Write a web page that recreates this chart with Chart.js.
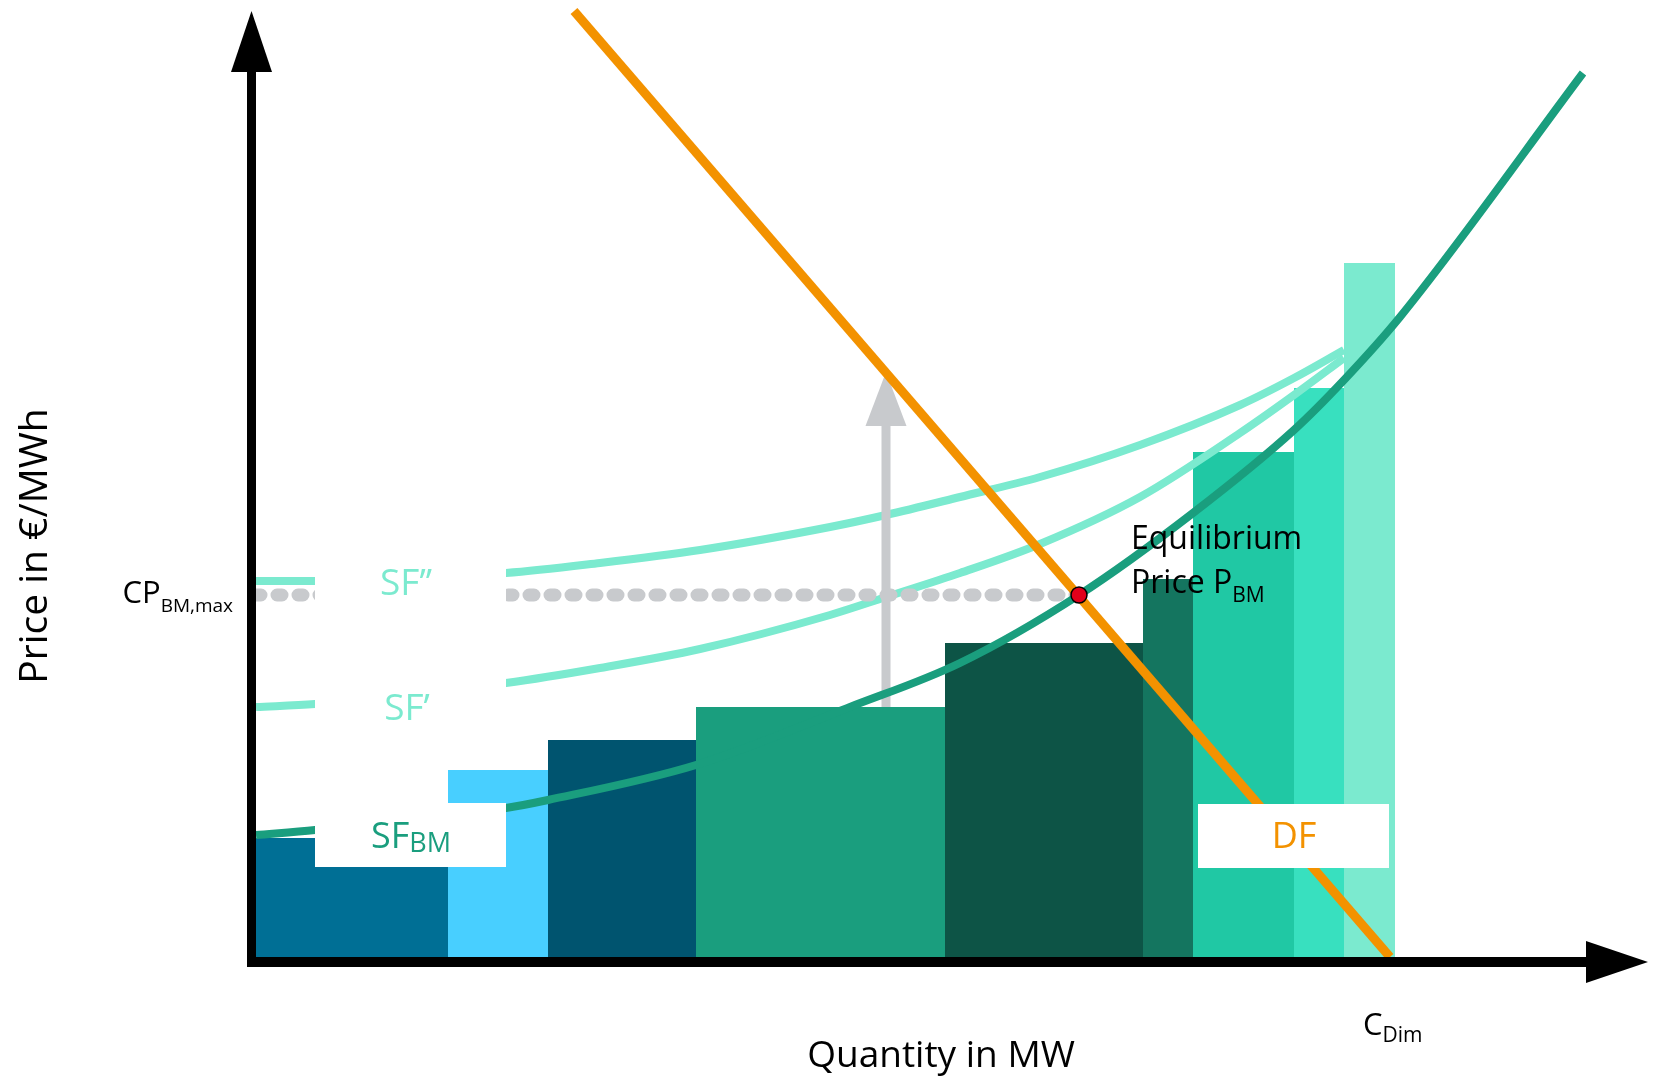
<!DOCTYPE html>
<html><head><meta charset="utf-8">
<script src="https://cdn.jsdelivr.net/npm/chart.js@4.4.0/dist/chart.umd.min.js"></script>
<style>html,body{margin:0;padding:0;background:#fff;}#wrap{width:1661px;height:1080px;position:relative;}</style>
</head><body><div id="wrap"><canvas id="c" width="1661" height="1080"></canvas></div>
<script>
// ---------- DATA ----------
// merit-order blocks: capacity (quantity) and bid price of each block
const blockCapacities = [19.2, 10.0, 14.8, 24.9, 19.8, 5.0, 10.1, 5.0, 5.1];
const blockPrices     = [11.9, 18.7, 21.7, 25.0, 31.4, 37.8, 50.5, 56.9, 69.4];
const blockColors     = ['#006f95','#48cfff','#00546f','#1a9e7e','#0d5446','#14755f','#20c8a4','#38e0bf','#7beacf'];

// supply function SF_BM
const sfBmQ = [0, 5.9, 25, 29.2, 44, 59.4, 70.4, 82.3, 93.7, 103.8, 108.8, 114.4, 132.7];
const sfBmP = [12.2, 12.7, 14.9, 15.7, 19.2, 25.0, 29.4, 36.2, 44.4, 52.7, 57.7, 64.0, 88.4];

// shifted supply functions SF' and SF''
const sfQ       = [0, 5.9, 25, 34.4, 44.4, 57.4, 63, 70.4, 78.4, 88.4, 98.4, 103.8, 108.8];
const sfPrimeP  = [25.0, 25.3, 27.4, 28.9, 30.8, 34.2, 36.0, 38.4, 41.3, 46.0, 52.4, 56.2, 59.9];
const sfDoubleP = [37.6, 37.6, 38.4, 39.4, 40.7, 43.0, 44.2, 46.0, 48.0, 51.2, 55.2, 57.9, 60.7];

// demand function DF
const dfQ = [31.8, 113.4];
const dfP = [94.6, 0];

// equilibrium
const eqQ = 82.3;
const eqP = 36.2;

// price-shift arrow (from top of block 4 upwards)
const shiftQ = 63.0;
const shiftP = [25.0, 53.1];
const shiftTipP = 58.5;

// axis extents
const xMin = -25.6, xMax = 140.5, yMin = -12.3, yMax = 95.7;

// ---------- BUILD ----------
const toPts = (xs, ys) => xs.map((x, i) => ({x, y: ys[i]}));
const datasets = [];
let cum = 0;
blockCapacities.forEach((w, i) => {
  const x0 = cum, x1 = cum + w; cum = x1;
  datasets.push({
    label: 'block' + (i + 1), data: [{x: x0, y: blockPrices[i]}, {x: x1, y: blockPrices[i]}],
    fill: 'origin', backgroundColor: blockColors[i], borderColor: 'rgba(0,0,0,0)', borderWidth: 0,
    pointRadius: 0, tension: 0, order: 20
  });
});
const cDim = cum;
const LIGHT = '#7beacf', GREEN = '#1a9e7e', ORANGE = '#f39200', GREY = '#c8cacd';
datasets.push({label: "SF''", data: toPts(sfQ, sfDoubleP), borderColor: LIGHT, borderWidth: 8, pointRadius: 0, cubicInterpolationMode: 'monotone', fill: false, order: 10});
datasets.push({label: "SF'", data: toPts(sfQ, sfPrimeP), borderColor: LIGHT, borderWidth: 8, pointRadius: 0, cubicInterpolationMode: 'monotone', fill: false, order: 9});
datasets.push({label: 'CPmax', data: [{x: 0, y: eqP}, {x: eqQ, y: eqP}], borderColor: GREY, borderWidth: 13, borderDash: [5, 16], borderCapStyle: 'round', pointRadius: 0, fill: false, order: 8});
datasets.push({label: 'shift', data: [{x: shiftQ, y: shiftP[0]}, {x: shiftQ, y: shiftP[1]}], borderColor: GREY, borderWidth: 9, pointRadius: 0, fill: false, order: 7});
datasets.push({label: 'SF_BM', data: toPts(sfBmQ, sfBmP), borderColor: GREEN, borderWidth: 8, pointRadius: 0, cubicInterpolationMode: 'monotone', fill: false, order: 6});
datasets.push({label: 'DF', data: toPts(dfQ, dfP), borderColor: ORANGE, borderWidth: 9, pointRadius: 0, fill: false, order: 5});
datasets.push({label: 'eq', data: [{x: eqQ, y: eqP}], showLine: false, pointRadius: 8, pointBackgroundColor: '#e2001a', pointBorderColor: '#000', pointBorderWidth: 1.5, order: 1});

const FONT = '"Open Sans", "Noto Sans", sans-serif';
function txt(ctx, s, x, y, size, color, align) {
  ctx.font = size + 'px ' + FONT; ctx.fillStyle = color; ctx.textAlign = align || 'left'; ctx.textBaseline = 'alphabetic';
  ctx.fillText(s, x, y);
}
function subTxt(ctx, main, sub, x, y, mSize, sSize, dy, color, align) {
  ctx.font = mSize + 'px ' + FONT; const wm = ctx.measureText(main).width;
  ctx.font = sSize + 'px ' + FONT; const ws = ctx.measureText(sub).width;
  let left = x;
  if (align === 'right') left = x - wm - ws; else if (align === 'center') left = x - (wm + ws) / 2;
  txt(ctx, main, left, y, mSize, color, 'left');
  txt(ctx, sub, left + wm, y + dy, sSize, color, 'left');
}

const deco = {
  id: 'deco',
  afterDatasetDraw(chart, args) {
    if (chart.data.datasets[args.index].label !== 'shift') return;
    const {ctx, scales: {x, y}} = chart;
    const px = x.getPixelForValue(shiftQ), base = y.getPixelForValue(shiftP[1]), tip = y.getPixelForValue(shiftTipP);
    ctx.save(); ctx.fillStyle = GREY; ctx.beginPath();
    ctx.moveTo(px, tip); ctx.lineTo(px + 20.5, base); ctx.lineTo(px - 20.5, base); ctx.closePath(); ctx.fill(); ctx.restore();
  },
  afterDatasetsDraw(chart) {
    const {ctx, scales: {x, y}} = chart;
    const X = v => x.getPixelForValue(v), Y = v => y.getPixelForValue(v);
    ctx.save();
    // axes
    const ax = X(0) - 4.5, ay = Y(0) + 5;
    ctx.fillStyle = '#000';
    ctx.fillRect(ax - 4.5, 72, 9, ay + 5 - 72);
    ctx.beginPath(); ctx.moveTo(ax, 11); ctx.lineTo(ax + 20.5, 72); ctx.lineTo(ax - 20.5, 72); ctx.closePath(); ctx.fill();
    ctx.fillRect(ax - 4.5, ay - 5, 1586 - (ax - 4.5), 10);
    ctx.beginPath(); ctx.moveTo(1648, ay); ctx.lineTo(1586, ay - 21); ctx.lineTo(1586, ay + 21); ctx.closePath(); ctx.fill();
    // white label boxes
    ctx.fillStyle = '#fff';
    ctx.fillRect(315, 530, 191, 215);
    ctx.fillRect(315, 803, 191, 64);
    ctx.fillRect(1198, 804, 191, 64);
    // labels
    const eqY = Y(eqP);
    subTxt(ctx, 'CP', 'BM,max', 233, eqY + 8, 31, 19, 9, '#000', 'right');
    txt(ctx, 'SF\u2019\u2019', 406, eqY, 37, LIGHT, 'center');
    txt(ctx, 'SF\u2019', 407, 720, 37, LIGHT, 'center');
    subTxt(ctx, 'SF', 'BM', 411, 848, 36, 27, 4, GREEN, 'center');
    txt(ctx, 'DF', 1294, 848, 36, ORANGE, 'center');
    txt(ctx, 'Equilibrium', 1131, 549, 32, '#000', 'left');
    subTxt(ctx, 'Price P', 'BM', 1131, 593, 32, 21, 9, '#000', 'left');
    subTxt(ctx, 'C', 'Dim', X(cDim) - 32, 1035, 31, 21, 7, '#000', 'left');
    txt(ctx, 'Quantity in MW', 941, 1067, 37, '#000', 'center');
    ctx.translate(47, 546); ctx.rotate(-Math.PI / 2);
    txt(ctx, 'Price in \u20ac/MWh', 0, 0, 39, '#000', 'center');
    ctx.restore();
  }
};

new Chart(document.getElementById('c'), {
  type: 'line',
  data: {datasets},
  options: {
    responsive: false, animation: false, events: [],
    layout: {padding: 0, autoPadding: false},
    plugins: {legend: {display: false}, tooltip: {enabled: false}, title: {display: false}},
    scales: {
      x: {type: 'linear', min: xMin, max: xMax, display: false},
      y: {type: 'linear', min: yMin, max: yMax, display: false}
    },
    elements: {line: {borderCapStyle: 'butt'}}
  },
  plugins: [deco]
});
</script></body></html>
